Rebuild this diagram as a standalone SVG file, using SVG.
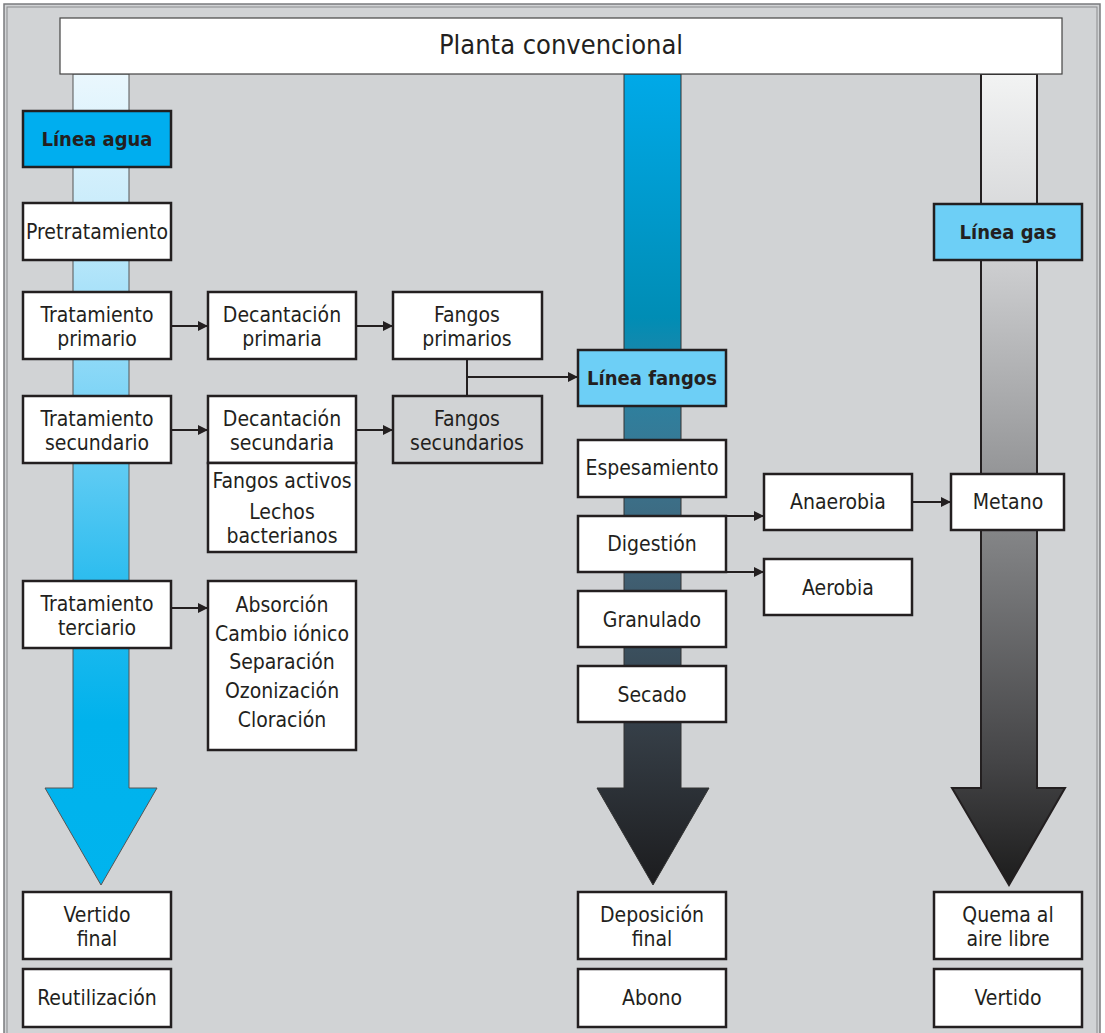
<svg xmlns="http://www.w3.org/2000/svg" width="1105" height="1033" viewBox="0 0 1105 1033">
<style>
text{font-family:"Liberation Sans Narrow","DejaVu Sans Condensed","Liberation Sans",sans-serif;font-size:21px;fill:#231f20;text-anchor:middle}
.b{fill:#fff;stroke:#231f20;stroke-width:2.5}
.g{fill:#d1d3d5;stroke:#231f20;stroke-width:2.5}
.hd{fill:#6dcff6;stroke:#231f20;stroke-width:2.5}
.bold{font-weight:bold;font-size:20px}
.c{fill:none;stroke:#231f20;stroke-width:2}
</style>
<defs>
<linearGradient id="gw" gradientUnits="userSpaceOnUse" x1="0" y1="74" x2="0" y2="885">
<stop offset="0" stop-color="#eaf7fd"/>
<stop offset="0.17" stop-color="#c9ecfb"/>
<stop offset="0.4" stop-color="#7ed4f6"/>
<stop offset="0.62" stop-color="#2ebdef"/>
<stop offset="0.8" stop-color="#00b2ec"/>
<stop offset="1" stop-color="#00b4ee"/>
</linearGradient>
<linearGradient id="gf" gradientUnits="userSpaceOnUse" x1="0" y1="74" x2="0" y2="885">
<stop offset="0" stop-color="#00a9e8"/>
<stop offset="0.3" stop-color="#008db5"/>
<stop offset="0.38" stop-color="#2a83a3"/>
<stop offset="0.48" stop-color="#3a7691"/>
<stop offset="0.62" stop-color="#405f72"/>
<stop offset="0.82" stop-color="#343c44"/>
<stop offset="1" stop-color="#1c1c1e"/>
</linearGradient>
<linearGradient id="gg" gradientUnits="userSpaceOnUse" x1="0" y1="74" x2="0" y2="885">
<stop offset="0" stop-color="#f2f3f3"/>
<stop offset="0.2" stop-color="#d4d5d7"/>
<stop offset="0.4" stop-color="#a9aaac"/>
<stop offset="0.6" stop-color="#7c7d7f"/>
<stop offset="0.85" stop-color="#444446"/>
<stop offset="1" stop-color="#1c1c1c"/>
</linearGradient>
<marker id="ah" viewBox="0 0 10 10" refX="10" refY="5" markerWidth="10" markerHeight="10" markerUnits="userSpaceOnUse" orient="auto">
<path d="M0,0 L10,5 L0,10 Z" fill="#231f20"/>
</marker>
</defs>
<rect x="0" y="0" width="1105" height="1033" fill="#fff"/>
<rect x="4" y="4" width="1096" height="1035" fill="#d1d3d5" stroke="#7a7b7d" stroke-width="1.5"/>
<rect x="7" y="7" width="1090" height="1035" fill="none" stroke="#8a8b8d" stroke-width="1"/>

<g id="flow-bars">
<path d="M73,74 L129,74 L129,788 L157,788 L101,885 L45,788 L73,788 Z" fill="url(#gw)" stroke="#555" stroke-width="1"/>
<path d="M624,74 L681,74 L681,788 L709,788 L653,885 L597,788 L624,788 Z" fill="url(#gf)" stroke="#333" stroke-width="1"/>
<path d="M981,74 L1037,74 L1037,788 L1065,788 L1009,885 L952,788 L981,788 Z" fill="url(#gg)" stroke="#231f20" stroke-width="2"/>
</g>

<g id="title">
<rect x="60" y="18" width="1002" height="56" fill="#fff" stroke="#444" stroke-width="1.2"/>
<text x="561" y="54" style="font-size:27px">Planta convencional</text>
</g>

<g id="connectors">
<line class="c" x1="171" y1="326" x2="208" y2="326" marker-end="url(#ah)"/>
<line class="c" x1="356" y1="326" x2="393" y2="326" marker-end="url(#ah)"/>
<line class="c" x1="171" y1="430" x2="208" y2="430" marker-end="url(#ah)"/>
<line class="c" x1="356" y1="430" x2="393" y2="430" marker-end="url(#ah)"/>
<line class="c" x1="171" y1="608" x2="208" y2="608" marker-end="url(#ah)"/>
<path class="c" d="M467,359 L467,396 M467,377 L578,377" marker-end="url(#ah)"/>
<line class="c" x1="726" y1="516" x2="764" y2="516" marker-end="url(#ah)"/>
<line class="c" x1="726" y1="572" x2="764" y2="572" marker-end="url(#ah)"/>
<line class="c" x1="912" y1="502" x2="951" y2="502" marker-end="url(#ah)"/>
</g>

<g id="linea-agua"><rect x="23" y="111" width="148" height="56" fill="#00aeef" stroke="#231f20" stroke-width="2.5"/><text class="bold" x="97" y="146">Línea agua</text></g>
<g id="pretratamiento"><rect class="b" x="23" y="203" width="148" height="57"/><text x="97" y="239">Pretratamiento</text></g>
<g id="tratamiento-primario"><rect class="b" x="23" y="292" width="148" height="67"/><text x="97" y="322">Tratamiento</text><text x="97" y="346">primario</text></g>
<g id="decantacion-primaria"><rect class="b" x="208" y="292" width="148" height="67"/><text x="282" y="322">Decantación</text><text x="282" y="346">primaria</text></g>
<g id="fangos-primarios"><rect class="b" x="393" y="292" width="149" height="67"/><text x="467" y="322">Fangos</text><text x="467" y="346">primarios</text></g>
<g id="tratamiento-secundario"><rect class="b" x="23" y="396" width="148" height="67"/><text x="97" y="426">Tratamiento</text><text x="97" y="450">secundario</text></g>
<g id="decantacion-secundaria"><rect class="b" x="208" y="396" width="148" height="67"/><text x="282" y="426">Decantación</text><text x="282" y="450">secundaria</text></g>
<g id="fangos-secundarios"><rect class="g" x="393" y="396" width="149" height="67"/><text x="467" y="426">Fangos</text><text x="467" y="450">secundarios</text></g>
<g id="fangos-activos"><rect class="b" x="208" y="463" width="148" height="89"/><text x="282" y="488">Fangos activos</text><text x="282" y="519">Lechos</text><text x="282" y="543">bacterianos</text></g>
<g id="tratamiento-terciario"><rect class="b" x="23" y="581" width="148" height="67"/><text x="97" y="611">Tratamiento</text><text x="97" y="635">terciario</text></g>
<g id="terciario-procesos"><rect class="b" x="208" y="581" width="148" height="169"/><text x="282" y="612">Absorción</text><text x="282" y="641">Cambio iónico</text><text x="282" y="669">Separación</text><text x="282" y="698">Ozonización</text><text x="282" y="727">Cloración</text></g>
<g id="vertido-final"><rect class="b" x="23" y="892" width="148" height="67"/><text x="97" y="922">Vertido</text><text x="97" y="946">final</text></g>
<g id="reutilizacion"><rect class="b" x="23" y="969" width="148" height="58"/><text x="97" y="1005">Reutilización</text></g>

<g id="linea-fangos"><rect class="hd" x="578" y="350" width="148" height="56"/><text class="bold" x="652" y="385">Línea fangos</text></g>
<g id="espesamiento"><rect class="b" x="578" y="440" width="148" height="57"/><text x="652" y="475">Espesamiento</text></g>
<g id="digestion"><rect class="b" x="578" y="516" width="148" height="56"/><text x="652" y="551">Digestión</text></g>
<g id="granulado"><rect class="b" x="578" y="591" width="148" height="56"/><text x="652" y="627">Granulado</text></g>
<g id="secado"><rect class="b" x="578" y="666" width="148" height="56"/><text x="652" y="702">Secado</text></g>
<g id="deposicion-final"><rect class="b" x="578" y="892" width="148" height="67"/><text x="652" y="922">Deposición</text><text x="652" y="946">final</text></g>
<g id="abono"><rect class="b" x="578" y="969" width="148" height="58"/><text x="652" y="1005">Abono</text></g>

<g id="anaerobia"><rect class="b" x="764" y="474" width="148" height="56"/><text x="838" y="509">Anaerobia</text></g>
<g id="aerobia"><rect class="b" x="764" y="559" width="148" height="56"/><text x="838" y="595">Aerobia</text></g>

<g id="linea-gas"><rect class="hd" x="934" y="204" width="148" height="56"/><text class="bold" x="1008" y="239">Línea gas</text></g>
<g id="metano"><rect class="b" x="951" y="474" width="113" height="56"/><text x="1008" y="509">Metano</text></g>
<g id="quema"><rect class="b" x="934" y="892" width="148" height="67"/><text x="1008" y="922">Quema al</text><text x="1008" y="946">aire libre</text></g>
<g id="vertido"><rect class="b" x="934" y="969" width="148" height="58"/><text x="1008" y="1005">Vertido</text></g>
</svg>
